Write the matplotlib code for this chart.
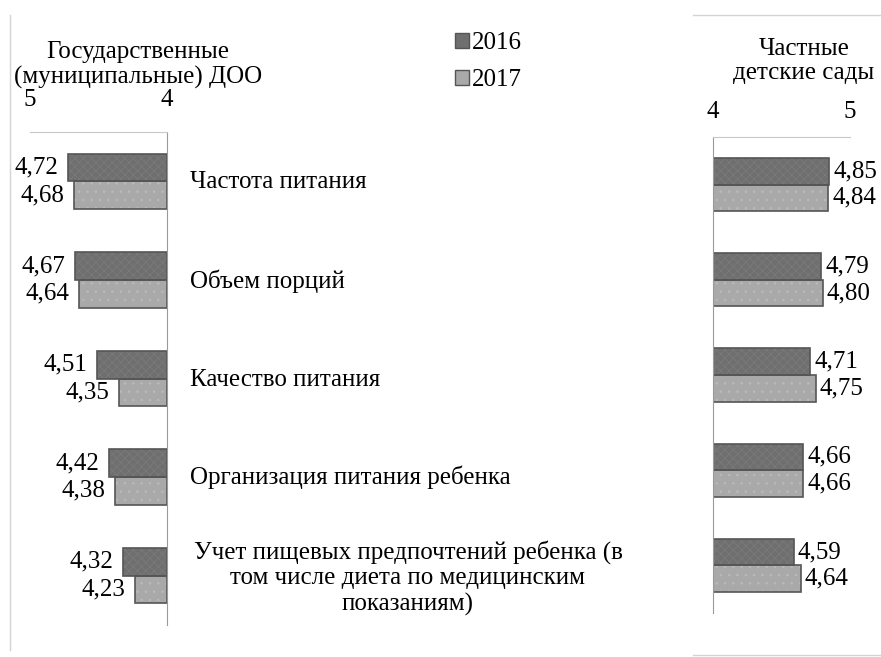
import matplotlib.pyplot as plt
from matplotlib.lines import Line2D
from matplotlib.patches import Patch
import numpy as np

plt.rcParams['font.family'] = ['Liberation Serif', 'DejaVu Serif']
plt.rcParams['hatch.linewidth'] = 0.6

categories = ["Частота питания", "Объем порций", "Качество питания",
              "Организация питания ребенка",
              "Учет пищевых предпочтений ребенка (в\nтом числе диета по медицинским\nпоказаниям)"]
years = ["2016", "2017"]
state_2016 = [4.72, 4.67, 4.51, 4.42, 4.32]
state_2017 = [4.68, 4.64, 4.35, 4.38, 4.23]
private_2016 = [4.85, 4.79, 4.71, 4.66, 4.59]
private_2017 = [4.84, 4.80, 4.75, 4.66, 4.64]

c16 = '#6f6f6f'
c17 = '#a9a9a9'
edge = '#555555'
FS = 18
W, H = 881, 657

fig = plt.figure(figsize=(W / 100, H / 100), dpi=100)


def fx(px):
    return px / W


def fy(py):
    return 1 - py / H


def fmt(v):
    return f"{v:.2f}".replace('.', ',')


def panel(rect, v16, v17, left_side):
    ax = fig.add_axes(rect)
    y = np.arange(len(v16))
    bh = 0.28
    d16 = np.array(v16) - 4
    d17 = np.array(v17) - 4
    # filled bars with a light texture, outline drawn on top
    ax.barh(y - bh / 2, d16, height=bh, left=4, color=c16,
            edgecolor='#7a7a7a', hatch='xxxx', linewidth=0)
    ax.barh(y + bh / 2, d17, height=bh, left=4, color=c17,
            edgecolor='#bababa', hatch='..', linewidth=0)
    b1 = ax.barh(y - bh / 2, d16, height=bh, left=4,
                 color='none', edgecolor=edge, linewidth=1.2)
    b2 = ax.barh(y + bh / 2, d17, height=bh, left=4,
                 color='none', edgecolor=edge, linewidth=1.2)
    ax.set_xlim((5, 4) if left_side else (4, 5))
    ax.set_ylim(len(v16) - 0.5, -0.5)
    ax.set_xticks([4, 5])
    ax.set_xticklabels(['4', '5'])
    ax.set_yticks([])
    ax.xaxis.set_ticks_position('top')
    ax.tick_params(axis='x', length=0, labelsize=FS,
                   pad=15 if left_side else 10)
    for s in ax.spines.values():
        s.set_visible(False)
    ax.spines['top'].set_visible(True)
    ax.spines['top'].set_color('#c8c8c8')
    side = 'right' if left_side else 'left'
    ax.spines[side].set_visible(True)
    ax.spines[side].set_color('#9a9a9a')
    for bars, vals in ((b1, v16), (b2, v17)):
        for b, v in zip(bars, vals):
            yc = b.get_y() + b.get_height() / 2
            ax.annotate(fmt(v), (v, yc), xytext=(-7 if left_side else 3, 0),
                        textcoords='offset points', va='center',
                        ha='right' if left_side else 'left', fontsize=FS)
    return ax


panel([fx(30), fy(625), fx(137), (625 - 132) / H], state_2016, state_2017, True)
panel([fx(713), fy(613), fx(137), (613 - 137) / H], private_2016, private_2017, False)

fig.text(fx(138), fy(65), "Государственные\n(муниципальные) ДОО", ha='center',
         va='center', fontsize=FS, linespacing=1.18)
fig.text(fx(804), fy(61), "Частные\nдетские сады", ha='center',
         va='center', fontsize=FS, linespacing=1.15)

label_pos = [(190, 182), (190, 281), (190, 380), (190, 477)]
for (px, py), name in zip(label_pos, categories[:4]):
    fig.text(fx(px), fy(py), name, ha='left', va='center', fontsize=FS)
fig.text(fx(408), fy(578), categories[4], ha='center', va='center',
         fontsize=FS, linespacing=1.18)

handles = [Patch(facecolor=c16, edgecolor=edge), Patch(facecolor=c17, edgecolor=edge)]
fig.legend(handles, years, loc='upper left', bbox_to_anchor=(fx(455), fy(32)),
           frameon=False, fontsize=FS, handlelength=0.56, handleheight=0.56,
           handletextpad=0.12, labelspacing=0.6, borderpad=0, borderaxespad=0)

frame = '#d4d4d4'
fig.add_artist(Line2D([fx(10), fx(10)], [fy(15), fy(650)], color=frame, lw=1))
fig.add_artist(Line2D([fx(693), fx(881)], [fy(15), fy(15)], color=frame, lw=1))
fig.add_artist(Line2D([fx(693), fx(881)], [fy(655), fy(655)], color=frame, lw=1))

fig.savefig('out.png', dpi=100)
